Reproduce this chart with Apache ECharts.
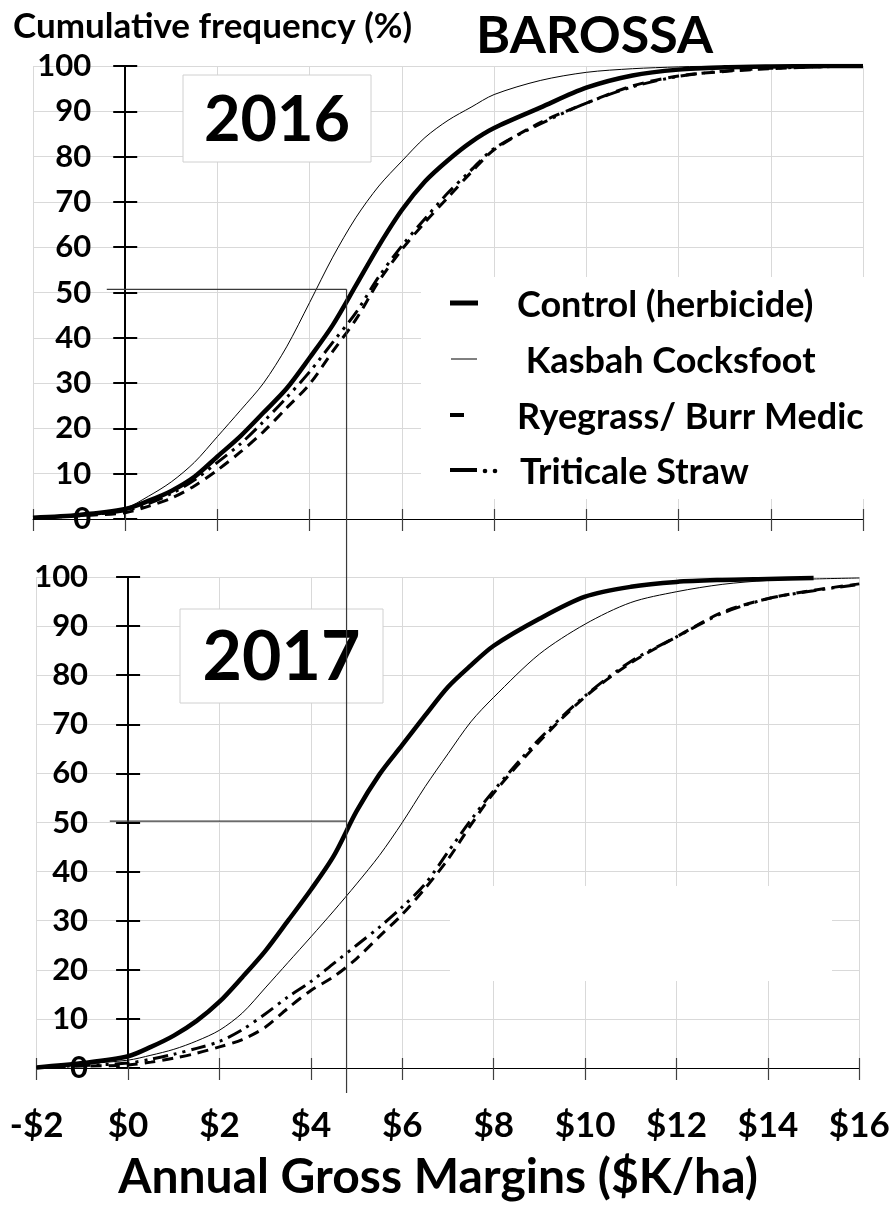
<!DOCTYPE html>
<html>
<head>
<meta charset="utf-8">
<script src="https://cdn.jsdelivr.net/npm/echarts@6/dist/echarts.min.js"></script>
<style>
  html, body { margin: 0; padding: 0; background: #fff; }
  #chart { width: 896px; height: 1205px; }
</style>
</head>
<body>
<div id="chart"></div>
<script>
// gross margin ($K/ha) at which each cumulative frequency is read
const margins = [-2, -1, 0, 0.5, 1, 1.5, 2, 2.5, 3, 3.5, 4, 4.5, 5, 5.5, 6, 6.5, 7, 7.5, 8, 9, 10, 11, 12, 13, 14, 15, 16]

// 2016 cumulative frequency (%)
const control2016 = [0.3, 0.9, 2.2, 4.0, 6.2, 9.3, 13.8, 18.3, 23.5, 28.8, 35.6, 42.8, 51.5, 60.3, 68.2, 74.5, 79.2, 83.2, 86.3, 90.8, 95.2, 97.9, 99.2, 99.7, 99.9, 100, 100]
const kasbah2016 = [0.3, 0.9, 2.4, 5.0, 8.2, 12.5, 18.2, 24, 30, 38, 47.8, 57.8, 66.5, 73.5, 79, 84.2, 88, 90.9, 93.7, 96.8, 98.6, 99.4, 99.8, 100, 100, 100, 100]
const ryegrass2016 = [0.2, 0.7, 1.4, 2.8, 4.6, 7.3, 10.8, 14.8, 19.3, 24.5, 29.8, 37, 44, 52.5, 59.5, 65.5, 71, 76.5, 81.5, 87.5, 91.8, 95.6, 97.8, 98.8, 99.4, 99.8, 100]
const triticale2016 = [0.3, 0.8, 1.8, 3.4, 5.6, 8.6, 12.5, 16.6, 21.5, 26.8, 32.5, 39, 45.5, 53.5, 60.3, 66.3, 72, 77, 81.8, 87.2, 91.8, 95.4, 97.7, 98.9, 99.5, 99.8, 100]

// 2017 cumulative frequency (%)
const control2017 = [0.1, 1.0, 2.4, 4.3, 6.6, 9.6, 13.5, 18.5, 23.8, 30, 36.3, 43.2, 52.3, 59.8, 65.8, 71.8, 77.6, 82, 86, 91.5, 96, 98, 99, 99.4, 99.6, 99.8, null]
const kasbah2017 = [0.1, 0.8, 1.6, 2.6, 3.8, 5.5, 7.7, 11.2, 16.3, 21.5, 26.7, 32, 37.5, 43.3, 50, 57.3, 64, 70.5, 75.5, 84.3, 90.4, 94.8, 97, 98.5, 99.3, 99.6, 99.8]
const ryegrass2017 = [0.1, 0.4, 0.6, 1.2, 2.0, 3.0, 4.3, 5.8, 8.3, 12.2, 15.8, 18.6, 22.3, 26.8, 31.3, 36.6, 42.5, 49.5, 56, 66.5, 75.6, 82.5, 87.8, 92.8, 95.6, 97.3, 98.6]
const triticale2017 = [0.1, 0.5, 1.0, 1.8, 2.8, 4.0, 5.4, 7.8, 11, 14.5, 17.6, 21.3, 25, 28.7, 32.8, 37.5, 44, 50.5, 56.5, 67, 75.8, 82.8, 87.8, 92.6, 95.6, 97.2, 98.5]

const seriesNames = ['Control (herbicide)', ' Kasbah Cocksfoot', 'Ryegrass/ Burr Medic', 'Triticale Straw']
const yearLabels = ['2016', '2017']

// median guide lines
const refMargin = 4.8
const refPct = [50.7, 50.3]
const refStart = -0.4
const refBottomPct = -5.1

const font = 'Lato'

const chart = echarts.init(document.getElementById('chart'))

const grids = [
  { left: 33, top: 66, width: 830, height: 453 },
  { left: 36.7, top: 577, width: 822.6, height: 491 },
]

const lineStyles = [
  { width: 4.5, type: 'solid' },
  { width: 1, type: 'solid' },
  { width: 3, type: [11, 7] },
  { width: 3, type: [15, 6, 3, 6, 3, 6] },
]

function pairs(vals) {
  return margins.map((m, i) => [m, vals[i] == null ? '-' : vals[i]])
}

function moneyLabel(v) {
  return (v < 0 ? '-$' : '$') + Math.abs(v)
}

function makeXAxes(g, showLabels) {
  return [
    {
      gridIndex: g, type: 'value', position: 'bottom', min: -2, max: 16, interval: 2,
      axisLine: { onZero: false, lineStyle: { color: '#000', width: 1 } },
      axisTick: { show: true, length: 12, lineStyle: { color: '#404040', width: 1.2 } },
      axisLabel: {
        show: showLabels, margin: 40, formatter: moneyLabel,
        fontFamily: font, fontWeight: 'bold', fontSize: 35, color: '#000',
      },
      splitLine: { show: true, lineStyle: { color: '#d9d9d9', width: 1 } },
    },
    {
      gridIndex: g, type: 'value', position: 'bottom', min: -2, max: 16, interval: 2,
      axisLine: { show: false, onZero: false },
      axisTick: { show: true, inside: true, length: 10, lineStyle: { color: '#404040', width: 1.2 } },
      axisLabel: { show: false },
      splitLine: { show: false },
    },
  ]
}

function makeYAxes(g, margin) {
  // y axis sits on $0, i.e. 2 of the 18 units from the left edge
  const off = -grids[g].width * 2 / 18
  return [
    {
      gridIndex: g, type: 'value', position: 'left', offset: off, min: 0, max: 100, interval: 10,
      axisLine: { show: true, onZero: false, lineStyle: { color: '#000', width: 2 } },
      axisTick: { show: true, length: 12, lineStyle: { color: '#000', width: 2 } },
      axisLabel: { margin: margin, fontFamily: font, fontWeight: 'bold', fontSize: 31, color: '#000' },
      splitLine: { show: true, lineStyle: { color: '#d9d9d9', width: 1 } },
    },
    {
      gridIndex: g, type: 'value', position: 'left', offset: off, min: 0, max: 100, interval: 10,
      axisLine: { show: false, onZero: false },
      axisTick: { show: true, inside: true, length: 12, lineStyle: { color: '#000', width: 2 } },
      axisLabel: { show: false },
      splitLine: { show: false },
    },
  ]
}

const yearData = [
  [control2016, kasbah2016, ryegrass2016, triticale2016],
  [control2017, kasbah2017, ryegrass2017, triticale2017],
]

let series = []
yearData.forEach((sets, g) => {
  sets.forEach((vals, k) => {
    series.push({
      name: seriesNames[k],
      type: 'line',
      xAxisIndex: g * 2,
      yAxisIndex: g * 2,
      data: pairs(vals),
      smooth: 0.3,
      showSymbol: false,
      symbol: 'none',
      connectNulls: false,
      z: 5 - k,
      lineStyle: { color: '#000', width: lineStyles[k].width, type: lineStyles[k].type, cap: 'butt' },
    })
  })
})

let option = {
  animation: false,
  backgroundColor: '#fff',
  title: [
    { text: 'Cumulative frequency (%)', left: 13, top: 9, padding: 0,
      textStyle: { fontFamily: font, fontWeight: 'bold', fontSize: 35, color: '#000' } },
    { text: 'BAROSSA', left: 476, top: 10, padding: 0,
      textStyle: { fontFamily: font, fontWeight: 'bold', fontSize: 52, color: '#000' } },
    { text: 'Annual Gross Margins ($K/ha)', left: 438, top: 1154, padding: 0, textAlign: 'center',
      textStyle: { fontFamily: font, fontWeight: 'bold', fontSize: 48, color: '#000' } },
  ],
  grid: grids.map(r => Object.assign({ outerBoundsMode: 'none', containLabel: false }, r)),
  xAxis: makeXAxes(0, false).concat(makeXAxes(1, true)),
  yAxis: makeYAxes(0, 34).concat(makeYAxes(1, 40)),
  series: series,
}
chart.setOption(option)

// annotation boxes, legend and median guide lines
function yearBox(x, y, w, h, label, size) {
  return {
    type: 'group', z: 3,
    children: [
      { type: 'rect', shape: { x: x, y: y, width: w, height: h },
        style: { fill: '#fff', stroke: '#d0d0d0', lineWidth: 1 } },
      { type: 'text', x: x + w / 2, y: y + h / 2 + 2,
        style: { text: label, fill: '#000', font: 'bold ' + size + 'px ' + font, align: 'center', verticalAlign: 'middle' } },
    ],
  }
}

const legendRows = [303, 359, 415, 470]
const legendTextX = [517, 517, 517, 520]
let legendItems = [
  { type: 'rect', shape: { x: 421, y: 277, width: 470, height: 222 }, style: { fill: '#fff' }, z: 1 },
  { type: 'rect', shape: { x: 450, y: 886, width: 382, height: 95 }, style: { fill: '#fff' }, z: 1 },
  { type: 'line', shape: { x1: 450, y1: legendRows[0], x2: 478, y2: legendRows[0] }, style: { stroke: '#000', lineWidth: 5 }, z: 6 },
  { type: 'line', shape: { x1: 451, y1: legendRows[1], x2: 477, y2: legendRows[1] }, style: { stroke: '#000', lineWidth: 1 }, z: 6 },
  { type: 'line', shape: { x1: 450, y1: legendRows[2], x2: 464, y2: legendRows[2] }, style: { stroke: '#000', lineWidth: 4 }, z: 6 },
  { type: 'line', shape: { x1: 450, y1: legendRows[3], x2: 477, y2: legendRows[3] }, style: { stroke: '#000', lineWidth: 4 }, z: 6 },
  { type: 'circle', shape: { cx: 485, cy: legendRows[3] + 1, r: 2.3 }, style: { fill: '#000' }, z: 6 },
  { type: 'circle', shape: { cx: 495, cy: legendRows[3] + 1, r: 2.3 }, style: { fill: '#000' }, z: 6 },
]
seriesNames.forEach((n, k) => {
  legendItems.push({
    type: 'text', x: legendTextX[k], y: legendRows[k] + 2, z: 6,
    style: { text: n, fill: '#000', font: 'bold 36px ' + font, verticalAlign: 'middle' },
  })
})

const xRef = chart.convertToPixel({ xAxisIndex: 0 }, refMargin)
const yTop = chart.convertToPixel({ yAxisIndex: 0 }, refPct[0])
const yLow = chart.convertToPixel({ yAxisIndex: 2 }, refPct[1])
const yEnd = chart.convertToPixel({ yAxisIndex: 2 }, refBottomPct)
const xStartTop = chart.convertToPixel({ xAxisIndex: 0 }, refStart)
const xStartLow = chart.convertToPixel({ xAxisIndex: 2 }, refStart)
const guide = { stroke: '#3a3a3a', lineWidth: 1.2 }

chart.setOption({
  graphic: [
    yearBox(183, 75, 188, 87, yearLabels[0], 63),
    yearBox(180, 609, 203, 94, yearLabels[1], 68),
  ].concat(legendItems).concat([
    { type: 'line', z: 7, shape: { x1: xRef, y1: yTop, x2: xRef, y2: yEnd }, style: guide },
    { type: 'line', z: 7, shape: { x1: xStartTop, y1: yTop, x2: xRef, y2: yTop }, style: guide },
    { type: 'line', z: 7, shape: { x1: xStartLow, y1: yLow, x2: xRef, y2: yLow }, style: guide },
  ]),
})

window.addEventListener('resize', () => chart.resize())
</script>
</body>
</html>
